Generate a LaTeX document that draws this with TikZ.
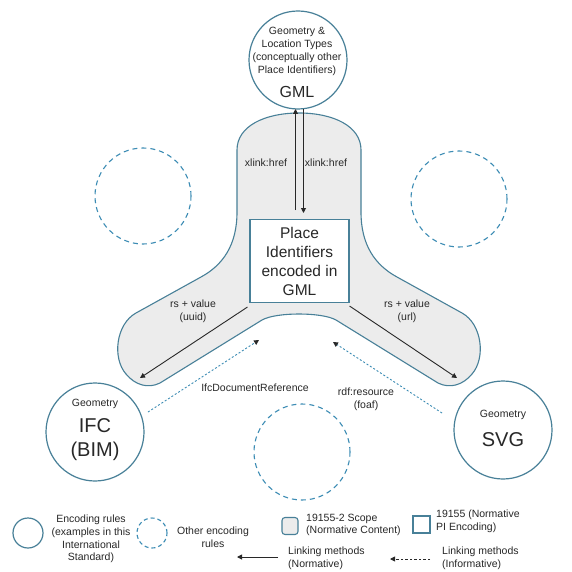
\documentclass[tikz,border=0pt]{standalone}
\usepackage{fontspec}
\setmainfont{Liberation Sans}
\usetikzlibrary{arrows.meta}
\definecolor{edge}{RGB}{72,128,152}
\definecolor{dashc}{RGB}{60,140,180}
\definecolor{fillg}{RGB}{236,236,236}
\definecolor{ink}{RGB}{40,40,40}
\begin{document}
\begin{tikzpicture}[x=1pt,y=-1pt,
  solidcirc/.style={circle,draw=edge,line width=1.2pt,minimum size=98pt,inner sep=0pt},
  dashcirc/.style={circle,draw=dashc,line width=1.1pt,dash pattern=on 5pt off 4pt,minimum size=96pt,inner sep=0pt},
  smallcirc/.style={circle,inner sep=0pt,minimum size=30pt},
  small/.style={font=\fontsize{10.5}{13}\selectfont,text=ink,align=center,inner sep=0pt},
  legtext/.style={font=\fontsize{10.5}{12.8}\selectfont,text=ink,inner sep=0pt},
  big/.style={font=\fontsize{16}{19}\selectfont,text=ink,align=center,inner sep=0pt},
  huge/.style={font=\fontsize{20}{24}\selectfont,text=ink,align=center,inner sep=0pt},
  scopefill/.style={fill=fillg,draw=edge,line width=1.1pt},
  pibox/.style={draw=edge,fill=white,line width=1.1pt,inner sep=0pt},
  arr/.style={draw=ink,line width=0.9pt,-{Triangle[length=5pt,width=5pt]}},
  dotarr/.style={draw=dashc,line width=0.9pt,dash pattern=on 2pt off 2pt,-{Triangle[length=5pt,width=5pt,color=ink,fill=ink]}},
  legdash/.style={draw=ink,line width=0.9pt,dash pattern=on 2.5pt off 2pt,-{Triangle[length=5pt,width=5pt]}}
]
\fill[white] (0,0) rectangle (571,572);
\useasboundingbox (0,0) rectangle (571,572);

% scope shape
\path[scopefill] (237,150) .. controls (237,126) and (265,113) .. (299,113)
 .. controls (333,113) and (361,126) .. (361,150)
 -- (361,212)
 .. controls (361,245) and (375,265) .. (397,277)
 -- (462,313)
 .. controls (482,324) and (486,358) .. (472,374)
 .. controls (463,385) and (450,389) .. (438,383)
 -- (336,320)
 .. controls (322,312) and (276,312) .. (262,320)
 -- (160,383)
 .. controls (148,389) and (135,385) .. (126,374)
 .. controls (112,358) and (116,324) .. (136,313)
 -- (201,277)
 .. controls (223,265) and (237,245) .. (237,212)
 -- cycle;

% central box
\node[pibox,minimum width=99pt,minimum height=83pt] (box) at (299.5,261) {};
\node[big,font=\fontsize{15.5}{19}\selectfont] (boxtext) at (299.5,261) {Place\\Identifiers\\encoded in\\GML};

% circles
\node[solidcirc] (gml) at (298,60) {};
\node[solidcirc] (ifc) at (95,432) {};
\node[solidcirc] (svg) at (503,430) {};
\node[dashcirc] (dc1) at (143,196) {};
\node[dashcirc] (dc2) at (459,199) {};
\node[dashcirc] (dc3) at (302,452) {};

% circle texts
\node[small] (gmlsmall) at (297,51.5) {Geometry \&\\Location Types\\(conceptually other\\Place Identifiers)};
\node[big] (gmlbig) at (297,92) {GML};
\node[small] (ifcsmall) at (95,404) {Geometry};
\node[huge] (ifcbig) at (95,440) {IFC\\(BIM)};
\node[small] (svgsmall) at (503,415) {Geometry};
\node[huge] (svgbig) at (503,440) {SVG};

% connectors
\coordinate (upstart) at (295.5,210);
\coordinate (downend) at (303.5,213);
\draw[arr] (upstart) -- (295.5,109);
\draw[arr] (303.5,109) -- (downend);
\coordinate (lend) at (140,378);
\coordinate (rend) at (457,378);
\draw[arr] ([shift={(-2pt,-4pt)}]box.south west) -- (lend);
\draw[arr] ([shift={(0pt,-3pt)}]box.south east) -- (rend);
\coordinate (dlstart) at (148,412);
\coordinate (dlhead) at (259,340);
\coordinate (drstart) at (442,413);
\coordinate (drhead) at (333,342);
\draw[dotarr] (dlstart) -- (dlhead);
\draw[dotarr] (drstart) -- (drhead);

% connector labels
\node[small] (xl1) at (266,163) {xlink:href};
\node[small] (xl2) at (326,163) {xlink:href};
\node[small] (rsl) at (193,311) {rs + value\\(uuid)};
\node[small] (rsr) at (407,311) {rs + value\\(url)};
\node[small] (ifcref) at (255,388) {IfcDocumentReference};
\node[small] (rdf) at (366,399) {rdf:resource\\(foaf)};

% legend
\node[smallcirc,draw=edge,line width=1.2pt] (lg1) at (28,533) {};
\node[legtext,align=center] (lg1t) at (91,539) {Encoding rules\\(examples in this\\International\\Standard)};
\node[smallcirc,draw=dashc,line width=1.1pt,dash pattern=on 4pt off 3pt] (lg2) at (152,533) {};
\node[legtext,align=center] (lg2t) at (213,537) {Other encoding\\rules};
\node[draw=edge,fill=fillg,line width=1.1pt,rounded corners=3pt,minimum width=16pt,minimum height=17pt,inner sep=0pt] (lg3) at (290,526) {};
\node[legtext,align=left,anchor=west] (lg3t) at (306,525) {19155-2 Scope\\(Normative Content)};
\node[pibox,minimum width=17pt,minimum height=17pt] (lg4) at (421.5,524.5) {};
\node[legtext,align=left,anchor=west] (lg4t) at (436,521.5) {19155 (Normative\\PI Encoding)};
\coordinate (la1) at (278,557);
\coordinate (la2) at (237,557);
\draw[arr] (la1) -- (la2);
\node[legtext,align=left,anchor=west] (lg5t) at (288,558.5) {Linking methods\\(Normative)};
\coordinate (lb1) at (430,559);
\coordinate (lb2) at (390,559);
\draw[legdash] (lb1) -- (lb2);
\node[legtext,align=left,anchor=west] (lg6t) at (442,558.5) {Linking methods\\(Informative)};
\end{tikzpicture}
\end{document}
